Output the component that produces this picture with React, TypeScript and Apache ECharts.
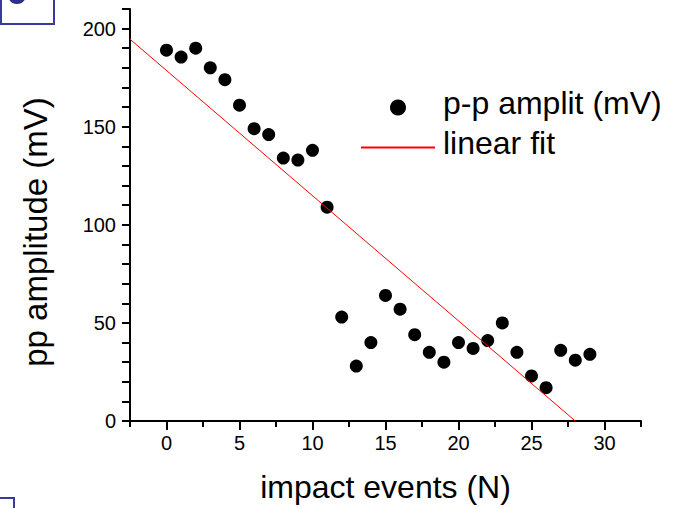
import React, { useEffect, useRef } from "react";
import * as echarts from "echarts";

const eventIndex: number[] = [0, 1, 2, 3, 4, 5, 6, 7, 8, 9, 10, 11, 12, 13, 14, 15, 16, 17, 18, 19, 20, 21, 22, 23, 24, 25, 26, 27, 28, 29];
const ppAmplitude: number[] = [189, 185.5, 190, 180, 174, 161, 149, 146, 134, 133, 138, 109, 53, 28, 40, 64, 57, 44, 35, 30, 40, 37, 41, 50, 35, 23, 17, 36, 31, 34];
const fitX: number[] = [-2.5, 28];
const fitY: number[] = [194.6, 0];
const xMajorTicks: number[] = [0, 5, 10, 15, 20, 25, 30];
const yMajorTicks: number[] = [0, 50, 100, 150, 200];

const FONT = '"Liberation Sans", Arial, Helvetica, sans-serif';

export default function App() {
  const ref = useRef<HTMLDivElement>(null);
  useEffect(() => {
    if (!ref.current) return;
    const chart = echarts.init(ref.current, undefined, { renderer: "svg" });
    const axisLineStyle = { color: "#000", width: 2 };
    chart.setOption({
      animation: false,
      backgroundColor: "#fff",
      textStyle: { fontFamily: FONT },
      grid: { left: 130, right: 36, top: 9, bottom: 87, containLabel: false },
      xAxis: [
        {
          type: "value",
          min: -2.5,
          max: 32.5,
          interval: 2.5,
          position: "bottom",
          axisLine: { show: true, onZero: false, lineStyle: axisLineStyle },
          axisTick: { show: true, inside: false, length: 6, lineStyle: axisLineStyle },
          axisLabel: { show: false },
          splitLine: { show: false },
        },
        {
          type: "value",
          min: -2.5,
          max: 32.5,
          position: "bottom",
          axisLine: { show: false, onZero: false },
          axisTick: { show: true, inside: false, length: 9, customValues: xMajorTicks, lineStyle: axisLineStyle },
          axisLabel: {
            show: true,
            customValues: xMajorTicks,
            fontSize: 20,
            color: "#000",
            margin: 12,
            fontFamily: FONT,
          },
          splitLine: { show: false },
          name: "impact events (N)",
          nameLocation: "middle",
          nameGap: 50,
          nameTextStyle: { fontSize: 32, color: "#000", fontFamily: FONT },
        },
      ],
      yAxis: {
        type: "value",
        min: 0,
        max: 210,
        interval: 10,
        axisLine: { show: true, onZero: false, lineStyle: axisLineStyle },
        axisTick: { show: true, inside: false, length: 8, lineStyle: axisLineStyle },
        axisLabel: {
          show: true,
          customValues: yMajorTicks,
          fontSize: 20,
          color: "#000",
          margin: 14,
          fontFamily: FONT,
        },
        splitLine: { show: false },
        name: "{t|pp amplitude (mV)}",
        nameLocation: "middle",
        nameGap: 78,
        nameTextStyle: {
          color: "#000",
          fontFamily: FONT,
          rich: { t: { fontSize: 33, color: "#000", fontFamily: FONT, padding: [0, 34, 0, 0] } },
        },
      },
      legend: {
        orient: "vertical",
        left: 360,
        top: 87,
        padding: 0,
        itemWidth: 74,
        itemHeight: 16,
        itemGap: 8,
        formatter: "{t|{name}}",
        textStyle: {
          color: "#000",
          fontFamily: FONT,
          rich: { t: { fontSize: 32, color: "#000", fontFamily: FONT, padding: [0, 0, 9, 3] } },
        },
        data: [
          { name: "p-p amplit (mV)", icon: "circle" },
          { name: "linear fit", itemStyle: { opacity: 0 } },
        ],
      },
      series: [
        {
          name: "p-p amplit (mV)",
          type: "scatter",
          xAxisIndex: 0,
          symbol: "circle",
          symbolSize: 13,
          itemStyle: { color: "#000", opacity: 1 },
          data: eventIndex.map((x, i) => [x, ppAmplitude[i]]),
        },
        {
          name: "linear fit",
          type: "line",
          xAxisIndex: 0,
          showSymbol: false,
          symbol: "none",
          lineStyle: { color: "#ff0000", width: 1 },
          itemStyle: { color: "#ff0000" },
          data: fitX.map((x, i) => [x, fitY[i]]),
        },
      ],
      graphic: [
        {
          type: "rect",
          shape: { x: 1, y: -5, width: 53, height: 29 },
          style: { fill: "none", stroke: "#3a3a9c", lineWidth: 2 },
        },
        {
          type: "ellipse",
          shape: { cx: 17, cy: -3, rx: 8.5, ry: 7 },
          style: { fill: "#2e2e8e" },
        },
        {
          type: "rect",
          shape: { x: -10, y: 498, width: 24, height: 30 },
          style: { fill: "none", stroke: "#3a3a9c", lineWidth: 2 },
        },
      ],
    });
    return () => chart.dispose();
  }, []);
  return (
    <div
      ref={ref}
      style={{ position: "fixed", left: 0, top: 0, width: 677, height: 508, background: "#fff" }}
    />
  );
}
